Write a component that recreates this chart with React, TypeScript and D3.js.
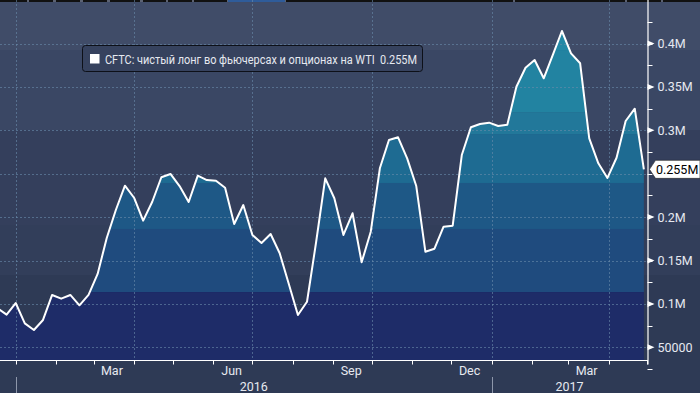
import React, { useEffect } from 'react';
import * as d3 from 'd3';

// ---- data ----
const START_DATE = '2015-12-18'; // first weekly CFTC report (Fridays)
const NET_LONG = [
  95000, 87600, 101000, 77600, 69900, 81500, 110300, 106000, 110300, 98400,
  110300, 134500, 175900, 208200, 236200, 222300, 195900, 217700, 245900, 249700,
  235800, 217400, 247700, 242700, 241900, 233900, 192100, 213900, 179400, 170200,
  180500, 158300, 122900, 87200, 102500, 171300, 244700, 221700, 179400, 204400,
  147900, 183200, 256200, 288800, 291900, 267700, 235800, 160100, 163600, 188900,
  190100, 271500, 303500, 307300, 308800, 305000, 306500, 350200, 372100, 381000,
  359900, 386800, 414400, 388700, 377200, 290800, 262000, 245100, 268400, 310700,
  324900, 255000,
];
const Y_TICKS = [50000, 100000, 150000, 200000, 300000, 350000, 400000];
const Y_TICK_LABELS = ['50000', '0.1M', '0.15M', '0.2M', '0.3M', '0.35M', '0.4M'];
const MONTH_LABEL_DATES = ['2016-03-15', '2016-06-15', '2016-09-15', '2016-12-15', '2017-03-15'];
const MONTH_LABELS = ['Mar', 'Jun', 'Sep', 'Dec', 'Mar'];
const YEAR_LABELS = ['2016', '2017'];
const SERIES_NAME = 'CFTC: чистый лонг во фьючерсах и опционах на WTI';
const LAST_LABEL = '0.255M';

// ---- styling ----
const W = 700;
const H = 393;
const PLOT_RIGHT = 647.5;
const PLOT_BOTTOM = 360.5;
const FONT = 'Roboto, "Liberation Sans", sans-serif';

// background bands (pixel rows)
const BG_BANDS: [number, number, string][] = [
  [0, 50, '#404c68'],
  [50, 130, '#3a4764'],
  [130, 225, '#343f5c'],
  [225, 275, '#323e5a'],
  [275, H, '#2e3a55'],
];
// area colour bands by value thresholds
const AREA_STOPS = [0, 113700, 186300, 239300, 295700, 321000, 392500, 600000];
const AREA_COLORS = ['#1e2c68', '#1f4b7e', '#1e5886', '#1e6b92', '#22789a', '#2283a1', '#2389a6'];

const TAB_SEGMENTS: [number, number, string][] = [
  [0, 27, '#111'], [29, 53, '#111'], [56, 80, '#111'], [83, 107, '#111'], [110, 140, '#111'],
  [143, 166, '#111'], [168, 192, '#111'], [194, 227, '#111'], [228, 285, '#2f5c9a'],
  [286, 513, '#111'], [515, 625, '#111'], [627, 661, '#111'], [663, 700, '#111'],
];

export default function App() {
  useEffect(() => {
    document.body.style.margin = '0';
  }, []);

  const start = d3.timeParse('%Y-%m-%d')(START_DATE) as Date;
  const data = NET_LONG.map((v, i) => ({ date: d3.timeDay.offset(start, 7 * i), v }));

  const x = d3
    .scaleTime()
    .domain([new Date(2016, 0, 1), new Date(2017, 0, 1)])
    .range([15.7, 491.7]);
  const y = d3.scaleLinear().domain([0, 400000]).range([390.7, 43.5]);

  const area = d3
    .area<{ date: Date; v: number }>()
    .x((d) => x(d.date))
    .y0(PLOT_BOTTOM)
    .y1((d) => y(d.v));
  const line = d3
    .line<{ date: Date; v: number }>()
    .x((d) => x(d.date))
    .y((d) => y(d.v));

  const domainEnd = x.invert(PLOT_RIGHT);
  const domainStart = x.invert(0);
  const months = d3.timeMonth.range(d3.timeMonth.ceil(domainStart), domainEnd);
  const quarters = months.filter((m) => m.getMonth() % 3 === 0);
  const years = d3.timeYear.range(d3.timeYear.ceil(domainStart), domainEnd);

  const minorY = d3.range(25000, 450000, 25000);
  const gridY = d3.range(50000, 450000, 50000);

  const last = data[data.length - 1];
  const lastY = y(last.v);
  const parseDay = d3.timeParse('%Y-%m-%d');

  return (
    <svg
      width={W}
      height={H}
      style={{ display: 'block', position: 'absolute', left: 0, top: 0 }}
      fontFamily={FONT}
    >
      <defs>
        <clipPath id="plotClip">
          <rect x={0} y={0} width={PLOT_RIGHT} height={PLOT_BOTTOM} />
        </clipPath>
        <clipPath id="areaClip">
          <path d={area(data) || ''} />
        </clipPath>
      </defs>

      {BG_BANDS.map(([a, b, c], i) => (
        <rect key={i} x={0} y={a} width={W} height={b - a} fill={c} />
      ))}

      {/* top tab strip */}
      <rect x={0} y={0} width={W} height={2} fill="#5c6272" />
      {TAB_SEGMENTS.map(([a, b, c], i) => (
        <rect key={i} x={a} y={0} width={b - a} height={2} fill={c} />
      ))}

      <g clipPath="url(#plotClip)">
        <g clipPath="url(#areaClip)">
          {AREA_COLORS.map((c, i) => (
            <rect
              key={i}
              x={0}
              y={y(AREA_STOPS[i + 1])}
              width={PLOT_RIGHT}
              height={y(AREA_STOPS[i]) - y(AREA_STOPS[i + 1])}
              fill={c}
            />
          ))}
        </g>
        {/* grid */}
        {gridY.map((v) => (
          <line
            key={v}
            x1={0}
            x2={PLOT_RIGHT}
            y1={Math.round(y(v)) + 0.5}
            y2={Math.round(y(v)) + 0.5}
            stroke="#6a8cab"
            strokeOpacity={0.6}
            strokeDasharray="2,2"
          />
        ))}
        {quarters.map((q) => (
          <line
            key={+q}
            x1={Math.round(x(q)) + 0.5}
            x2={Math.round(x(q)) + 0.5}
            y1={0}
            y2={PLOT_BOTTOM}
            stroke="#6a8cab"
            strokeOpacity={0.6}
            strokeDasharray="2,2"
          />
        ))}
        <path d={line(data) || ''} fill="none" stroke="#ffffff" strokeWidth={2} strokeLinejoin="round" />
      </g>

      {/* x axis */}
      <line x1={0} x2={PLOT_RIGHT + 0.5} y1={PLOT_BOTTOM} y2={PLOT_BOTTOM} stroke="#ffffff" strokeWidth={1.2} />
      {months.map((m) => (
        <line
          key={+m}
          x1={Math.round(x(m)) + 0.5}
          x2={Math.round(x(m)) + 0.5}
          y1={PLOT_BOTTOM}
          y2={PLOT_BOTTOM + 4}
          stroke="#ffffff"
        />
      ))}
      <line x1={PLOT_RIGHT} x2={PLOT_RIGHT} y1={PLOT_BOTTOM} y2={PLOT_BOTTOM + 4} stroke="#ffffff" />
      {MONTH_LABEL_DATES.map((d, i) => (
        <text
          key={d}
          x={x(parseDay(d) as Date)}
          y={375}
          textAnchor="middle"
          fontSize={12.5}
          fill="#e6e9f0"
        >
          {MONTH_LABELS[i]}
        </text>
      ))}
      {years.map((yr, i) => {
        const next = d3.timeYear.offset(yr, 1);
        const right = Math.min(x(next), PLOT_RIGHT);
        return (
          <g key={+yr}>
            <line
              x1={Math.round(x(yr)) + 0.5}
              x2={Math.round(x(yr)) + 0.5}
              y1={377}
              y2={H}
              stroke="#8d96aa"
            />
            <text
              x={(x(yr) + right) / 2}
              y={390.5}
              textAnchor="middle"
              fontSize={12.5}
              fill="#e6e9f0"
            >
              {YEAR_LABELS[i]}
            </text>
          </g>
        );
      })}

      {/* y axis (right) */}
      <line x1={PLOT_RIGHT + 0.5} x2={PLOT_RIGHT + 0.5} y1={0} y2={PLOT_BOTTOM + 4} stroke="#ffffff" strokeWidth={1.2} />
      {minorY.map((v) => (
        <line
          key={v}
          x1={PLOT_RIGHT}
          x2={PLOT_RIGHT + 5}
          y1={Math.round(y(v)) + 0.5}
          y2={Math.round(y(v)) + 0.5}
          stroke="#ffffff"
        />
      ))}
      {Y_TICKS.map((v, i) => {
        const yy = y(v);
        return (
          <g key={v}>
            <path
              d={`M${PLOT_RIGHT},${yy - 3}L${PLOT_RIGHT + 7},${yy}L${PLOT_RIGHT},${yy + 3}Z`}
              fill="#ffffff"
            />
            <text x={657.5} y={yy + 4.5} fontSize={12.5} fill="#e6e9f0">
              {Y_TICK_LABELS[i]}
            </text>
          </g>
        );
      })}

      {/* last value tag */}
      <path
        d={`M${PLOT_RIGHT + 2},${lastY}L${PLOT_RIGHT + 8},${lastY - 9}L${W},${lastY - 9}L${W},${lastY + 9}L${PLOT_RIGHT + 8},${lastY + 9}Z`}
        fill="#ffffff"
        stroke="#222"
        strokeWidth={0.6}
      />
      <text x={656} y={lastY + 4.5} fontSize={12.5} fill="#000000">
        {LAST_LABEL}
      </text>

      {/* legend */}
      <rect x={82.5} y={45.5} width={340} height={26} rx={3} fill="#36425e" stroke="#0d1018" strokeWidth={1} />
      <rect x={90} y={54} width={9.5} height={9.5} fill="#ffffff" />
      <text x={105} y={63.5} fontSize={12} fill="#e6e9f0" textLength={312} lengthAdjust="spacingAndGlyphs">
        {SERIES_NAME + '\u00a0\u00a0' + LAST_LABEL}
      </text>
    </svg>
  );
}
